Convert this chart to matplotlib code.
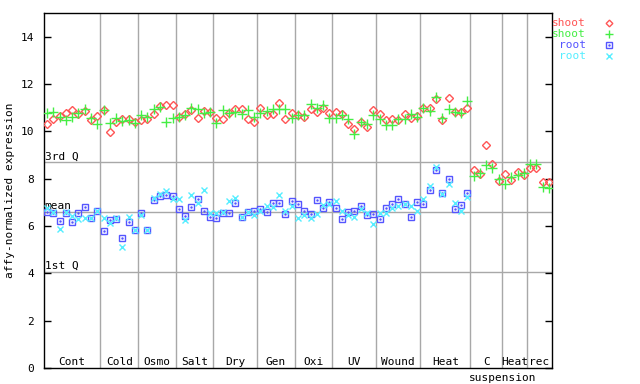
import numpy as np
import matplotlib
matplotlib.use("Agg")
import matplotlib.pyplot as plt

nan = np.nan

# group names and how many samples each group has
groups = ["Cont", "Cold", "Osmo", "Salt", "Dry", "Gen", "Oxi", "UV", "Wound", "Heat", "C", "Heat", "rec"]
group_sizes = [9, 6, 6, 6, 7, 6, 6, 7, 7, 8, 5, 4, 4]

# expression values
shoot_1 = [10.30, 10.54, 10.65, 10.79, 10.89, 10.72, 10.86, 10.49, 10.64,
           10.89, 9.96, 10.38, 10.54, 10.51, 10.38,
           10.49, 10.51, 10.74, 11.06, 11.10, 11.11,
           10.61, 10.72, 10.92, 10.55, 10.85, 10.83,
           10.55, 10.51, 10.76, 10.93, 10.93, 10.54, 10.41,
           10.97, 10.71, 10.74, 11.21, 10.54, 10.79,
           10.71, 10.62, 10.96, 10.82, 11.00, 10.76,
           10.81, 10.72, 10.32, 10.08, 10.41, 10.20, 10.89,
           10.74, 10.49, 10.54, 10.49, 10.72, 10.58, 10.65,
           11.00, 11.00, 11.36, 10.49, 11.39, 10.83, 10.83, 11.00,
           8.38, 8.21, 9.41, 8.60, 7.91,
           8.21, 7.94, 8.29, 8.14,
           8.47, 8.47, 7.87, 7.87]
shoot_2 = [10.79, 10.83, 10.59, 10.49, 10.62, 10.76, 10.96, 10.56, 10.30,
           10.89, 10.37, 10.58, 10.45, 10.49, 10.37,
           10.69, 10.61, 10.93, 11.04, 10.38, 10.55,
           10.62, 10.69, 10.97, 10.96, 10.79, 10.83,
           10.37, 10.89, 10.76, 10.83, 10.74, 10.89, 10.62,
           10.79, 10.88, 10.96, 10.93, 10.96, 10.58,
           10.68, 10.71, 11.17, 11.00, 11.10, 10.58,
           10.58, 10.68, 10.54, 9.90, 10.41, 10.30, 10.71,
           10.54, 10.28, 10.28, 10.54, 10.54, 10.74, 10.62,
           11.00, 10.86, 11.44, 10.58, 10.96, 10.83, 10.76, 11.30,
           8.12, 8.24, 8.59, 8.47, 8.00,
           7.78, 8.05, 8.14, 8.25,
           8.60, 8.60, 7.66, 7.61]
root_1 = [6.61, 6.53, 6.23, 6.57, 6.17, 6.56, 6.82, 6.34, 6.62,
          5.80, 6.26, 6.30, 5.48, 6.17, 5.85,
          6.56, 5.83, 7.10, 7.25, 7.32, 7.25,
          6.72, 6.44, 6.82, 7.12, 6.65, 6.36,
          6.34, 6.53, 6.56, 6.98, 6.36, 6.61, 6.64,
          6.71, 6.60, 6.98, 6.98, 6.51, 7.06,
          6.94, 6.64, 6.51, 7.10, 6.74, 7.02,
          6.77, 6.30, 6.60, 6.64, 6.86, 6.46, 6.51,
          6.30, 6.77, 6.94, 7.15, 6.94, 6.38, 7.02,
          6.94, 7.53, 8.38, 7.40, 8.00, 6.72, 6.89, 7.40,
          nan, nan, nan, nan, nan,
          nan, nan, nan, nan,
          nan, nan, nan, nan]
root_2 = [6.77, 6.60, 5.89, 6.61, 6.43, 6.30, 6.34, 6.34, 6.62,
          6.34, 6.13, 6.35, 5.11, 6.40, 5.85,
          6.47, 5.83, 7.19, 7.36, 7.46, 7.16,
          7.12, 6.24, 7.29, 6.99, 7.54, 6.56,
          6.56, 6.61, 7.06, 7.19, 6.36, 6.61, 6.45,
          6.65, 6.86, 6.81, 7.32, 6.65, 6.84,
          6.33, 6.47, 6.33, 6.51, 6.89, 6.94,
          7.06, 6.64, 6.47, 6.38, 6.72, 6.56, 6.09,
          6.56, 6.56, 6.77, 6.86, 6.94, 6.86, 6.64,
          7.15, 7.70, 8.50, 7.36, 7.78, 6.98, 6.64, 7.23,
          nan, nan, nan, nan, nan,
          nan, nan, nan, nan,
          nan, nan, nan, nan]

# reference lines
q3 = 8.69
mean_val = 6.61
q1 = 4.07

red = "#ff5555"
green = "#44ee44"
blue = "#5555ff"
cyan = "#55eeff"
grey = "#a8a8a8"

plt.rcParams["font.family"] = "DejaVu Sans Mono"
plt.rcParams["font.size"] = 8

fig = plt.figure(figsize=(6.4, 3.84), dpi=100)
ax = fig.add_axes([44 / 640, 1 - 368 / 384, (552 - 44) / 640, (368 - 13) / 384])

n = len(shoot_1)
x = np.arange(1, n + 1)
ax.set_xlim(0.5, n + 0.5)
ax.set_ylim(0, 15)

# quartile / mean lines and labels
for val, lab in [(q3, "3rd Q"), (mean_val, "mean"), (q1, "1st Q")]:
    ax.axhline(val, color=grey, lw=1, zorder=1)
    ax.text(0.62, val + 0.03, lab, ha="left", va="bottom", fontsize=8, zorder=2)

# group separators and names
edges = np.cumsum(group_sizes) + 0.5
start = 0.5
for g, e in zip(groups, edges):
    if e < n:
        ax.axvline(e, color=grey, lw=1, zorder=1)
    ax.text((start + e) / 2, 0.12, g, ha="center", va="baseline", fontsize=8)
    start = e
ax.text(edges[9] - 0.3, -0.55, "suspension", ha="left", va="baseline", fontsize=8, clip_on=False)

# the four series
ax.plot(x, shoot_1, ls="none", marker="D", ms=3.8, mfc="none", mec=red, mew=1, zorder=3)
ax.plot(x, shoot_2, ls="none", marker="+", ms=6.5, mec=green, mew=1, zorder=3)
ax.plot(x, root_1, ls="none", marker="s", ms=4.4, mfc="none", mec=blue, mew=1, zorder=3)
ax.plot(x, root_1, ls="none", marker=".", ms=1.5, mfc=blue, mec=blue, zorder=3)
ax.plot(x, root_2, ls="none", marker="x", ms=4.4, mec=cyan, mew=1, zorder=4)

ax.set_xticks([])
ax.set_yticks(np.arange(0, 15, 2))
ax.tick_params(axis="y", direction="in", length=5, width=1, pad=7, right=True, labelsize=8)
for s in ax.spines.values():
    s.set_linewidth(1)
ax.set_ylabel("affy-normalized expression", fontsize=8, labelpad=4)

# legend drawn by hand on the right
leg = [("shoot", red, "D", dict(mfc="none", mec=red, ms=3.4, mew=1)),
       ("shoot", green, "+", dict(mec=green, ms=5.5, mew=1)),
       ("root", blue, "s", dict(mfc="none", mec=blue, ms=4.0, mew=1)),
       ("root", cyan, "x", dict(mec=cyan, ms=4.0, mew=1))]
for k, (lab, col, mk, kw) in enumerate(leg):
    yy = 1 - (23 + 11 * k) / 384
    fig.text(586 / 640, yy, lab, color=col, ha="right", va="center", fontsize=8)
    ax.plot([609 / 640], [yy], transform=fig.transFigure, marker=mk, ls="none", clip_on=False, **kw)
ax.plot([609 / 640], [1 - 45 / 384], transform=fig.transFigure, marker=".", ms=1.5,
        mfc=blue, mec=blue, ls="none", clip_on=False)

fig.savefig("out.png", dpi=100)
